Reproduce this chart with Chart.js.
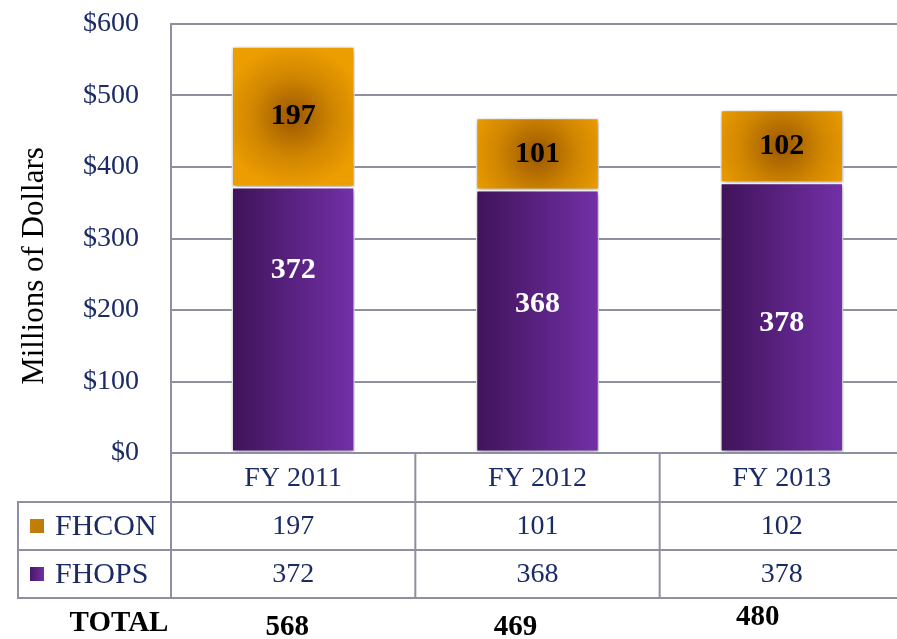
<!DOCTYPE html>
<html>
<head>
<meta charset="utf-8">
<script src="https://cdn.jsdelivr.net/npm/chart.js@4"></script>
<style>
  html, body { margin: 0; padding: 0; overflow: hidden; background: #fff; }
</style>
</head>
<body>
<canvas id="budgetChart" width="904" height="639"></canvas>
<script>
const years = ['FY 2011', 'FY 2012', 'FY 2013'];
const fhcon = [197, 101, 102];
const fhops = [372, 368, 378];
const totals = [568, 469, 480];
const seriesNames = ['FHCON', 'FHOPS'];
const yTitle = 'Millions of Dollars';

const navy = '#1b2b66';
const gridGray = '#8e8fa0';
const serif = '"Liberation Serif", "Times New Roman", serif';
const barPct = 0.505;
// vertical nudges for the value labels inside the purple segments
const fhopsLabelShift = [-49, -17, 6];

function purpleFill(context) {
  const chart = context.chart;
  if (!chart.chartArea || context.dataIndex === undefined) return '#5b1f8a';
  const cx = chart.scales.x.getPixelForValue(context.dataIndex);
  const half = (chart.chartArea.width / years.length) * barPct / 2;
  const g = chart.ctx.createLinearGradient(cx - half, 0, cx + half, 0);
  g.addColorStop(0, '#3f1359');
  g.addColorStop(1, '#7330a8');
  return g;
}

function orangeFill(context) {
  const chart = context.chart;
  const i = context.dataIndex;
  if (!chart.chartArea || i === undefined) return '#e39500';
  const cx = chart.scales.x.getPixelForValue(i);
  const cy = chart.scales.y.getPixelForValue(fhops[i] + fhcon[i] / 2);
  const g = chart.ctx.createRadialGradient(cx, cy, 0, cx, cy, 72);
  g.addColorStop(0, '#9a5700');
  g.addColorStop(0.55, '#cf8500');
  g.addColorStop(1, '#ec9d00');
  return g;
}

const barShadow = {
  id: 'barShadow',
  beforeDatasetsDraw(chart) {
    const ctx = chart.ctx;
    ctx.save();
    ctx.shadowColor = 'rgba(0,0,0,0.35)';
    ctx.shadowBlur = 6;
    ctx.shadowOffsetX = 1;
    ctx.shadowOffsetY = 2;
  },
  afterDatasetsDraw(chart) {
    chart.ctx.restore();
    const ctx = chart.ctx;
    ctx.save();
    ctx.font = 'bold 30px ' + serif;
    ctx.textAlign = 'center';
    ctx.textBaseline = 'middle';
    chart.data.datasets.forEach((ds, d) => {
      chart.getDatasetMeta(d).data.forEach((bar, i) => {
        const p = bar.getCenterPoint();
        const dy = d === 0 ? fhopsLabelShift[i] : 0;
        ctx.fillStyle = d === 0 ? '#ffffff' : '#000000';
        ctx.fillText(String(ds.data[i]), p.x, p.y + dy);
      });
    });
    ctx.restore();
  }
};

const dataTable = {
  id: 'dataTable',
  afterDraw(chart) {
    const ctx = chart.ctx;
    const x = chart.scales.x;
    const area = chart.chartArea;
    const colW = area.width / years.length;
    const top = area.bottom;
    const r1 = top + 49, r2 = top + 97, r3 = top + 145;
    const tableLeft = 18;

    ctx.save();
    // axis title, drawn by hand so it can sit a little below the middle
    ctx.save();
    ctx.translate(35, 266);
    ctx.rotate(-Math.PI / 2);
    ctx.font = '31px ' + serif;
    ctx.fillStyle = '#000';
    ctx.textAlign = 'center';
    ctx.textBaseline = 'middle';
    ctx.fillText(yTitle, 0, 0);
    ctx.restore();

    ctx.strokeStyle = gridGray;
    ctx.lineWidth = 2;
    ctx.beginPath();
    [r1, r2, r3].forEach(y => { ctx.moveTo(tableLeft, y); ctx.lineTo(area.right, y); });
    ctx.moveTo(tableLeft, r1 - 1); ctx.lineTo(tableLeft, r3 + 1);
    for (let k = 0; k < years.length; k++) {
      const bx = area.left + k * colW;
      ctx.moveTo(bx, top); ctx.lineTo(bx, r3 + 1);
    }
    ctx.stroke();

    ctx.textAlign = 'center';
    ctx.textBaseline = 'middle';
    ctx.font = '28px ' + serif;
    ctx.fillStyle = navy;
    years.forEach((label, i) => {
      const cx = x.getPixelForValue(i);
      ctx.fillText(label, cx, (top + r1) / 2 + 1);
      ctx.fillText(String(fhcon[i]), cx, (r1 + r2) / 2 + 1);
      ctx.fillText(String(fhops[i]), cx, (r2 + r3) / 2 + 1);
    });

    // legend keys
    const keyY = [(r1 + r2) / 2, (r2 + r3) / 2];
    const og = ctx.createLinearGradient(30, keyY[0] - 7, 44, keyY[0] + 7);
    og.addColorStop(0, '#c98000');
    og.addColorStop(1, '#b87a10');
    ctx.fillStyle = og;
    ctx.fillRect(30, keyY[0] - 7, 14, 14);
    const pg = ctx.createLinearGradient(30, 0, 44, 0);
    pg.addColorStop(0, '#4a1768');
    pg.addColorStop(1, '#7030a5');
    ctx.fillStyle = pg;
    ctx.fillRect(30, keyY[1] - 7, 14, 14);

    ctx.textAlign = 'left';
    ctx.fillStyle = navy;
    ctx.font = '30px ' + serif;
    ctx.fillText(seriesNames[0], 55, keyY[0] + 1);
    ctx.fillText(seriesNames[1], 55, keyY[1] + 1);

    // totals row
    ctx.fillStyle = '#000';
    ctx.font = 'bold 29px ' + serif;
    ctx.textAlign = 'center';
    ctx.fillText('TOTAL', 119, r3 + 26);
    const totalDx = [-6, -22, -24];
    const totalDy = [30, 30, 20];
    totals.forEach((t, i) => {
      ctx.fillText(String(t), x.getPixelForValue(i) + totalDx[i], r3 + totalDy[i]);
    });
    ctx.restore();
  }
};

new Chart(document.getElementById('budgetChart'), {
  type: 'bar',
  data: {
    labels: years,
    datasets: [
      {
        label: seriesNames[1],
        data: fhops,
        backgroundColor: purpleFill,
        borderColor: '#ffffff',
        borderWidth: 1.5,
        borderSkipped: false
      },
      {
        label: seriesNames[0],
        data: fhcon,
        backgroundColor: orangeFill,
        borderColor: '#ffffff',
        borderWidth: 1.5,
        borderSkipped: false
      }
    ]
  },
  options: {
    responsive: false,
    animation: false,
    categoryPercentage: 1,
    barPercentage: barPct,
    layout: { padding: { top: 0, bottom: 186, left: 0, right: 0 } },
    plugins: {
      legend: { display: false },
      tooltip: { enabled: false }
    },
    scales: {
      x: {
        stacked: true,
        display: false
      },
      y: {
        stacked: true,
        min: 0,
        max: 600,
        afterFit(scale) {
          scale.width = 171;
          scale.paddingTop = 24;
          scale.paddingBottom = 0;
        },
        border: { display: true, color: gridGray, width: 2 },
        grid: { color: gridGray, lineWidth: 2, drawTicks: false },
        ticks: {
          stepSize: 100,
          padding: 32,
          color: navy,
          font: { family: serif, size: 28 },
          callback: v => '$' + v
        }
      }
    }
  },
  plugins: [barShadow, dataTable]
});
</script>
</body>
</html>
